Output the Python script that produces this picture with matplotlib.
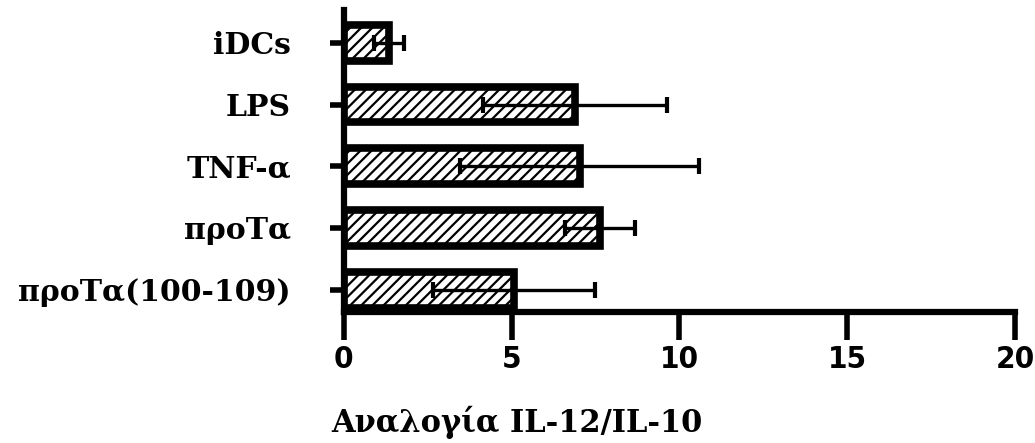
import numpy as np
import matplotlib.pyplot as plt

# IL-12/IL-10 ratio per treatment (mean and error)
groups = ['iDCs', 'LPS', 'TNF-α', 'προΤα', 'προΤα(100-109)']
ratio = [1.35, 6.88, 7.03, 7.63, 5.07]
err = [0.45, 2.74, 3.55, 1.05, 2.40]
xticks = [0, 5, 10, 15, 20]

plt.rcParams['hatch.linewidth'] = 1.6
plt.rcParams['hatch.color'] = 'black'

fig = plt.figure(figsize=(10.35, 4.43), dpi=100)
ax = fig.add_axes([0.332, 0.296, 0.649, 0.681])

# first group on top
pos = np.arange(len(groups))[::-1]
ax.barh(pos, ratio, height=0.58, color='white', edgecolor='black',
        linewidth=5.5, hatch='///', zorder=2)
ax.errorbar(ratio, pos, xerr=err, fmt='none', ecolor='black',
            elinewidth=2.4, capsize=6, capthick=3, zorder=3)

ax.set_xlim(0, 20)
ax.set_ylim(-0.36, 4.53)
ax.set_xticks(xticks)
ax.set_xticklabels([str(t) for t in xticks], fontfamily='DejaVu Sans',
                   fontstretch='condensed', fontweight='bold', fontsize=22.5)
ax.set_yticks(pos)
ax.set_yticklabels(groups, fontfamily='DejaVu Serif',
                   fontweight='bold', fontsize=21.5)

ax.spines['top'].set_visible(False)
ax.spines['right'].set_visible(False)
ax.spines['left'].set_linewidth(4.5)
ax.spines['bottom'].set_linewidth(4.5)
ax.tick_params(axis='x', length=20, width=4, pad=4)
ax.tick_params(axis='y', length=10, width=4, pad=28)

ax.set_xlabel('Αναλογία IL-12/IL-10', fontfamily='DejaVu Serif',
              fontweight='bold', fontsize=22)
ax.xaxis.set_label_coords(0.258, -0.31)

fig.savefig('out.png', dpi=100)
